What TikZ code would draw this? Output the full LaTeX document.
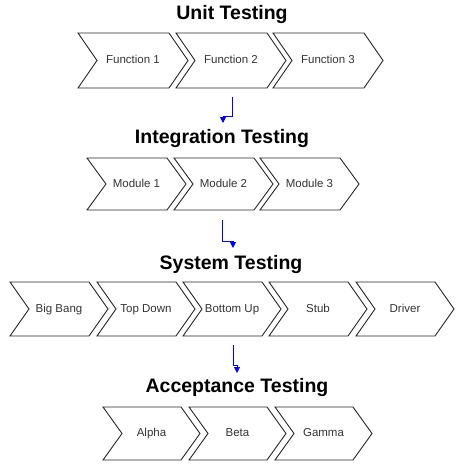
\documentclass[tikz,border=0pt]{standalone}
\usepackage{fontspec}
\setmainfont{Liberation Sans}
\usetikzlibrary{arrows.meta}
\def\chevron[#1](#2,#3)(#4:#5)#6{\draw[chev] (#2,#3) -- ++({#4-19},0) -- ++(19,{#5/2}) -- ++(-19,{#5/2}) -- ++({19-#4},0) -- ++(19,{-#5/2}) -- cycle;
\node[lbl] (#1) at ({#2+#4/2},{#3+#5/2}) {#6};}

\begin{document}
\begin{tikzpicture}[x=1pt,y=-1pt,
	chev/.style={line width=0.9pt, draw=black!85, line join=miter},
	lbl/.style={font=\fontsize{11.5}{13}\selectfont, text=black!80, text height=8.5pt, text depth=2.5pt},
	ttl/.style={font=\fontsize{19.5}{22}\selectfont\bfseries},
	flow/.style={line width=0.9pt, blue, -{Triangle[width=6pt,length=6pt]}}]
			%%%%% START %%%%%
			\useasboundingbox (0,0) rectangle (465,471);
			
			\node[ttl] (unit) at (232,15) {Unit Testing};
			\chevron[fn1](78,33)(110:55){Function 1};
			\chevron[fn2](176,33)(110:55){Function 2};
			\chevron[fn3](273,33)(110:55){Function 3};
			
			\coordinate (s1) at (232,97);
			\coordinate (k1) at (223,116);
			\coordinate (e1) at (223,123);
			\draw[flow] (s1) |- (k1) -- (e1);
			
			\node[ttl] (integ) at (222,138) {Integration Testing};
			\chevron[mod1](87,158)(99:52){Module 1};
			\chevron[mod2](174,158)(99:52){Module 2};
			\chevron[mod3](260,158)(99:52){Module 3};
			
			\coordinate (s2) at (222,220);
			\coordinate (k2) at (233,241);
			\coordinate (e2) at (233,248);
			\draw[flow] (s2) |- (k2) -- (e2);
			
			\node[ttl] (sys) at (231,264) {System Testing};
			\chevron[bang](10,282)(98:54){Big Bang};
			\chevron[down](97,282)(98:54){Top Down};
			\chevron[up](183,282)(98:54){Bottom Up};
			\chevron[stub](269,282)(98:54){Stub};
			\chevron[drv](356,282)(98:54){Driver};
			
			\coordinate (s3) at (233,345);
			\coordinate (k3) at (237,365);
			\coordinate (e3) at (237,373);
			\draw[flow] (s3) |- (k3) -- (e3);
			
			\node[ttl] (accept) at (237,387) {Acceptance Testing};
			\chevron[alpha](103,407)(97:53){Alpha};
			\chevron[beta](189,407)(97:53){Beta};
			\chevron[gamma](275,407)(97:53){Gamma};
			
			%%%%% END %%%%%
		\end{tikzpicture}
\end{document}
